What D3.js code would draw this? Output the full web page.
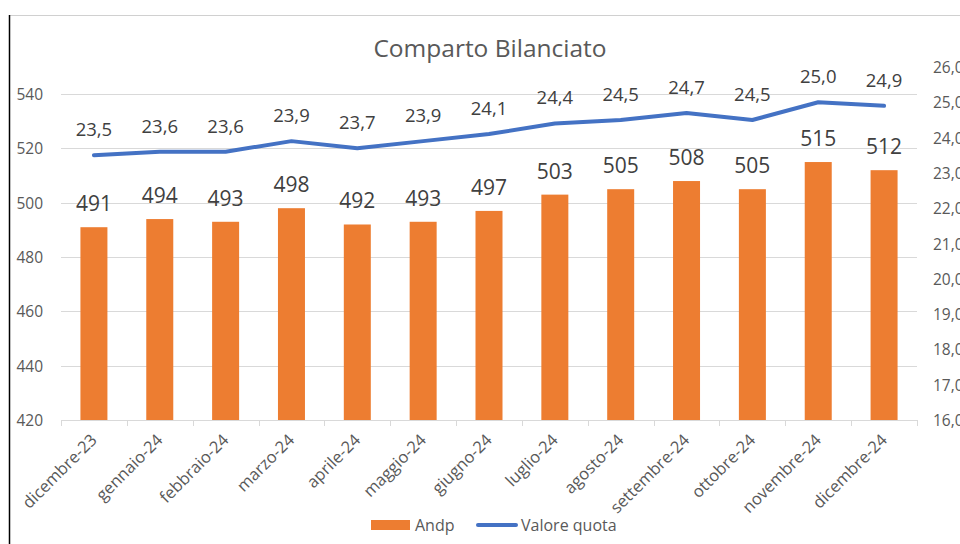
<!DOCTYPE html>
<html>
<head>
<meta charset="utf-8">
<script src="https://cdn.jsdelivr.net/npm/d3@7"></script>
<style>
  body { margin: 0; background: #fff; }
  svg { display: block; font-family: 'Open Sans', sans-serif; }
</style>
</head>
<body>
<div id="chart"></div>
<script>
const width = 960;
const height = 544;

const months = ['dicembre-23', 'gennaio-24', 'febbraio-24', 'marzo-24', 'aprile-24', 'maggio-24',
  'giugno-24', 'luglio-24', 'agosto-24', 'settembre-24', 'ottobre-24', 'novembre-24', 'dicembre-24'];
const andp = [491, 494, 493, 498, 492, 493, 497, 503, 505, 508, 505, 515, 512];
const quota = [23.5, 23.6, 23.6, 23.9, 23.7, 23.9, 24.1, 24.4, 24.5, 24.7, 24.5, 25.0, 24.9];
const leftTicks = [420, 440, 460, 480, 500, 520, 540];
const rightTicks = [16, 17, 18, 19, 20, 21, 22, 23, 24, 25, 26];

const plot = {left: 61, right: 917, top: 67, bottom: 420};
const textColor = '#595959';
const fmtQuota = (v)=>v.toFixed(1).replace('.', ',');

const x = d3.scaleBand()
  .domain(months)
  .range([plot.left, plot.right])
  .paddingInner(0.59)
  .paddingOuter(0.295);
const yLeft = d3.scaleLinear().domain([420, 550]).range([plot.bottom, plot.top]);
const yRight = d3.scaleLinear().domain([16, 26]).range([plot.bottom, plot.top]);
const xCenter = (m)=>x(m) + x.bandwidth() / 2;

const svg = d3.create('svg')
  .attr('width', width)
  .attr('height', height);

// frame
svg.append('line')
  .attr('x1', 9.5).attr('x2', width).attr('y1', 15.5).attr('y2', 15.5)
  .attr('stroke', '#d0d0d0');
svg.append('line')
  .attr('x1', 9.5).attr('x2', 9.5).attr('y1', 15).attr('y2', height)
  .attr('stroke', '#000').attr('stroke-width', 1.5);

svg.append('text')
  .attr('x', 490).attr('y', 57)
  .attr('text-anchor', 'middle')
  .attr('font-size', 24.5)
  .attr('fill', textColor)
  .text('Comparto Bilanciato');

// gridlines
svg.append('g')
  .selectAll('line')
  .data(leftTicks.slice(1))
  .join('line')
  .attr('x1', plot.left).attr('x2', plot.right)
  .attr('y1', (d)=>Math.round(yLeft(d)) + 0.5)
  .attr('y2', (d)=>Math.round(yLeft(d)) + 0.5)
  .attr('stroke', '#d9d9d9');

// left axis labels
svg.append('g')
  .attr('font-size', 15.5)
  .attr('fill', textColor)
  .attr('text-anchor', 'end')
  .selectAll('text')
  .data(leftTicks)
  .join('text')
  .attr('x', 43)
  .attr('y', (d)=>yLeft(d) + 6)
  .text((d)=>d);

// right axis labels (cut at the page edge, as in the original)
svg.append('g')
  .attr('font-size', 15.5)
  .attr('fill', textColor)
  .selectAll('text')
  .data(rightTicks)
  .join('text')
  .attr('x', 933)
  .attr('y', (d)=>yRight(d) + 6)
  .text((d)=>d.toFixed(1).replace('.', ','));

// bars
svg.append('g')
  .attr('fill', '#ED7D31')
  .selectAll('rect')
  .data(andp)
  .join('rect')
  .attr('x', (d, i)=>x(months[i]))
  .attr('width', x.bandwidth())
  .attr('y', (d)=>yLeft(d))
  .attr('height', (d)=>plot.bottom - yLeft(d));

// x axis
const axisG = svg.append('g');
axisG.append('line')
  .attr('x1', plot.left).attr('x2', plot.right)
  .attr('y1', plot.bottom + 0.5).attr('y2', plot.bottom + 0.5)
  .attr('stroke', '#d9d9d9');
axisG.selectAll('line.tick')
  .data(d3.range(months.length + 1))
  .join('line')
  .attr('class', 'tick')
  .attr('x1', (i)=>Math.round(plot.left + i * x.step()) + 0.5)
  .attr('x2', (i)=>Math.round(plot.left + i * x.step()) + 0.5)
  .attr('y1', plot.bottom).attr('y2', plot.bottom + 6)
  .attr('stroke', '#d9d9d9');
axisG.selectAll('text')
  .data(months)
  .join('text')
  .attr('font-size', 16.5)
  .attr('fill', textColor)
  .attr('text-anchor', 'end')
  .attr('transform', (d)=>`translate(${xCenter(d) + 4},${plot.bottom + 21}) rotate(-45)`)
  .text((d)=>d);

// line
const line = d3.line()
  .x((d, i)=>xCenter(months[i]))
  .y((d)=>yRight(d));
svg.append('path')
  .datum(quota)
  .attr('fill', 'none')
  .attr('stroke', '#4472C4')
  .attr('stroke-width', 4)
  .attr('stroke-linejoin', 'round')
  .attr('stroke-linecap', 'round')
  .attr('d', line);

// data labels
svg.append('g')
  .attr('font-size', 21)
  .attr('fill', '#404040')
  .attr('text-anchor', 'middle')
  .selectAll('text')
  .data(andp)
  .join('text')
  .attr('x', (d, i)=>xCenter(months[i]))
  .attr('y', (d)=>yLeft(d) - 16)
  .text((d)=>d);

svg.append('g')
  .attr('font-size', 18.5)
  .attr('fill', '#404040')
  .attr('text-anchor', 'middle')
  .selectAll('text')
  .data(quota)
  .join('text')
  .attr('x', (d, i)=>xCenter(months[i]))
  .attr('y', (d)=>yRight(d) - 19)
  .text(fmtQuota);

// legend
const legend = svg.append('g').attr('font-size', 16).attr('fill', textColor);
legend.append('rect')
  .attr('x', 371).attr('y', 520).attr('width', 39).attr('height', 10)
  .attr('fill', '#ED7D31');
legend.append('text').attr('x', 415).attr('y', 531).text('Andp');
legend.append('line')
  .attr('x1', 478).attr('x2', 516).attr('y1', 525).attr('y2', 525)
  .attr('stroke', '#4472C4').attr('stroke-width', 4).attr('stroke-linecap', 'round');
legend.append('text').attr('x', 521).attr('y', 531).text('Valore quota');

document.getElementById('chart').appendChild(svg.node());
</script>
</body>
</html>
